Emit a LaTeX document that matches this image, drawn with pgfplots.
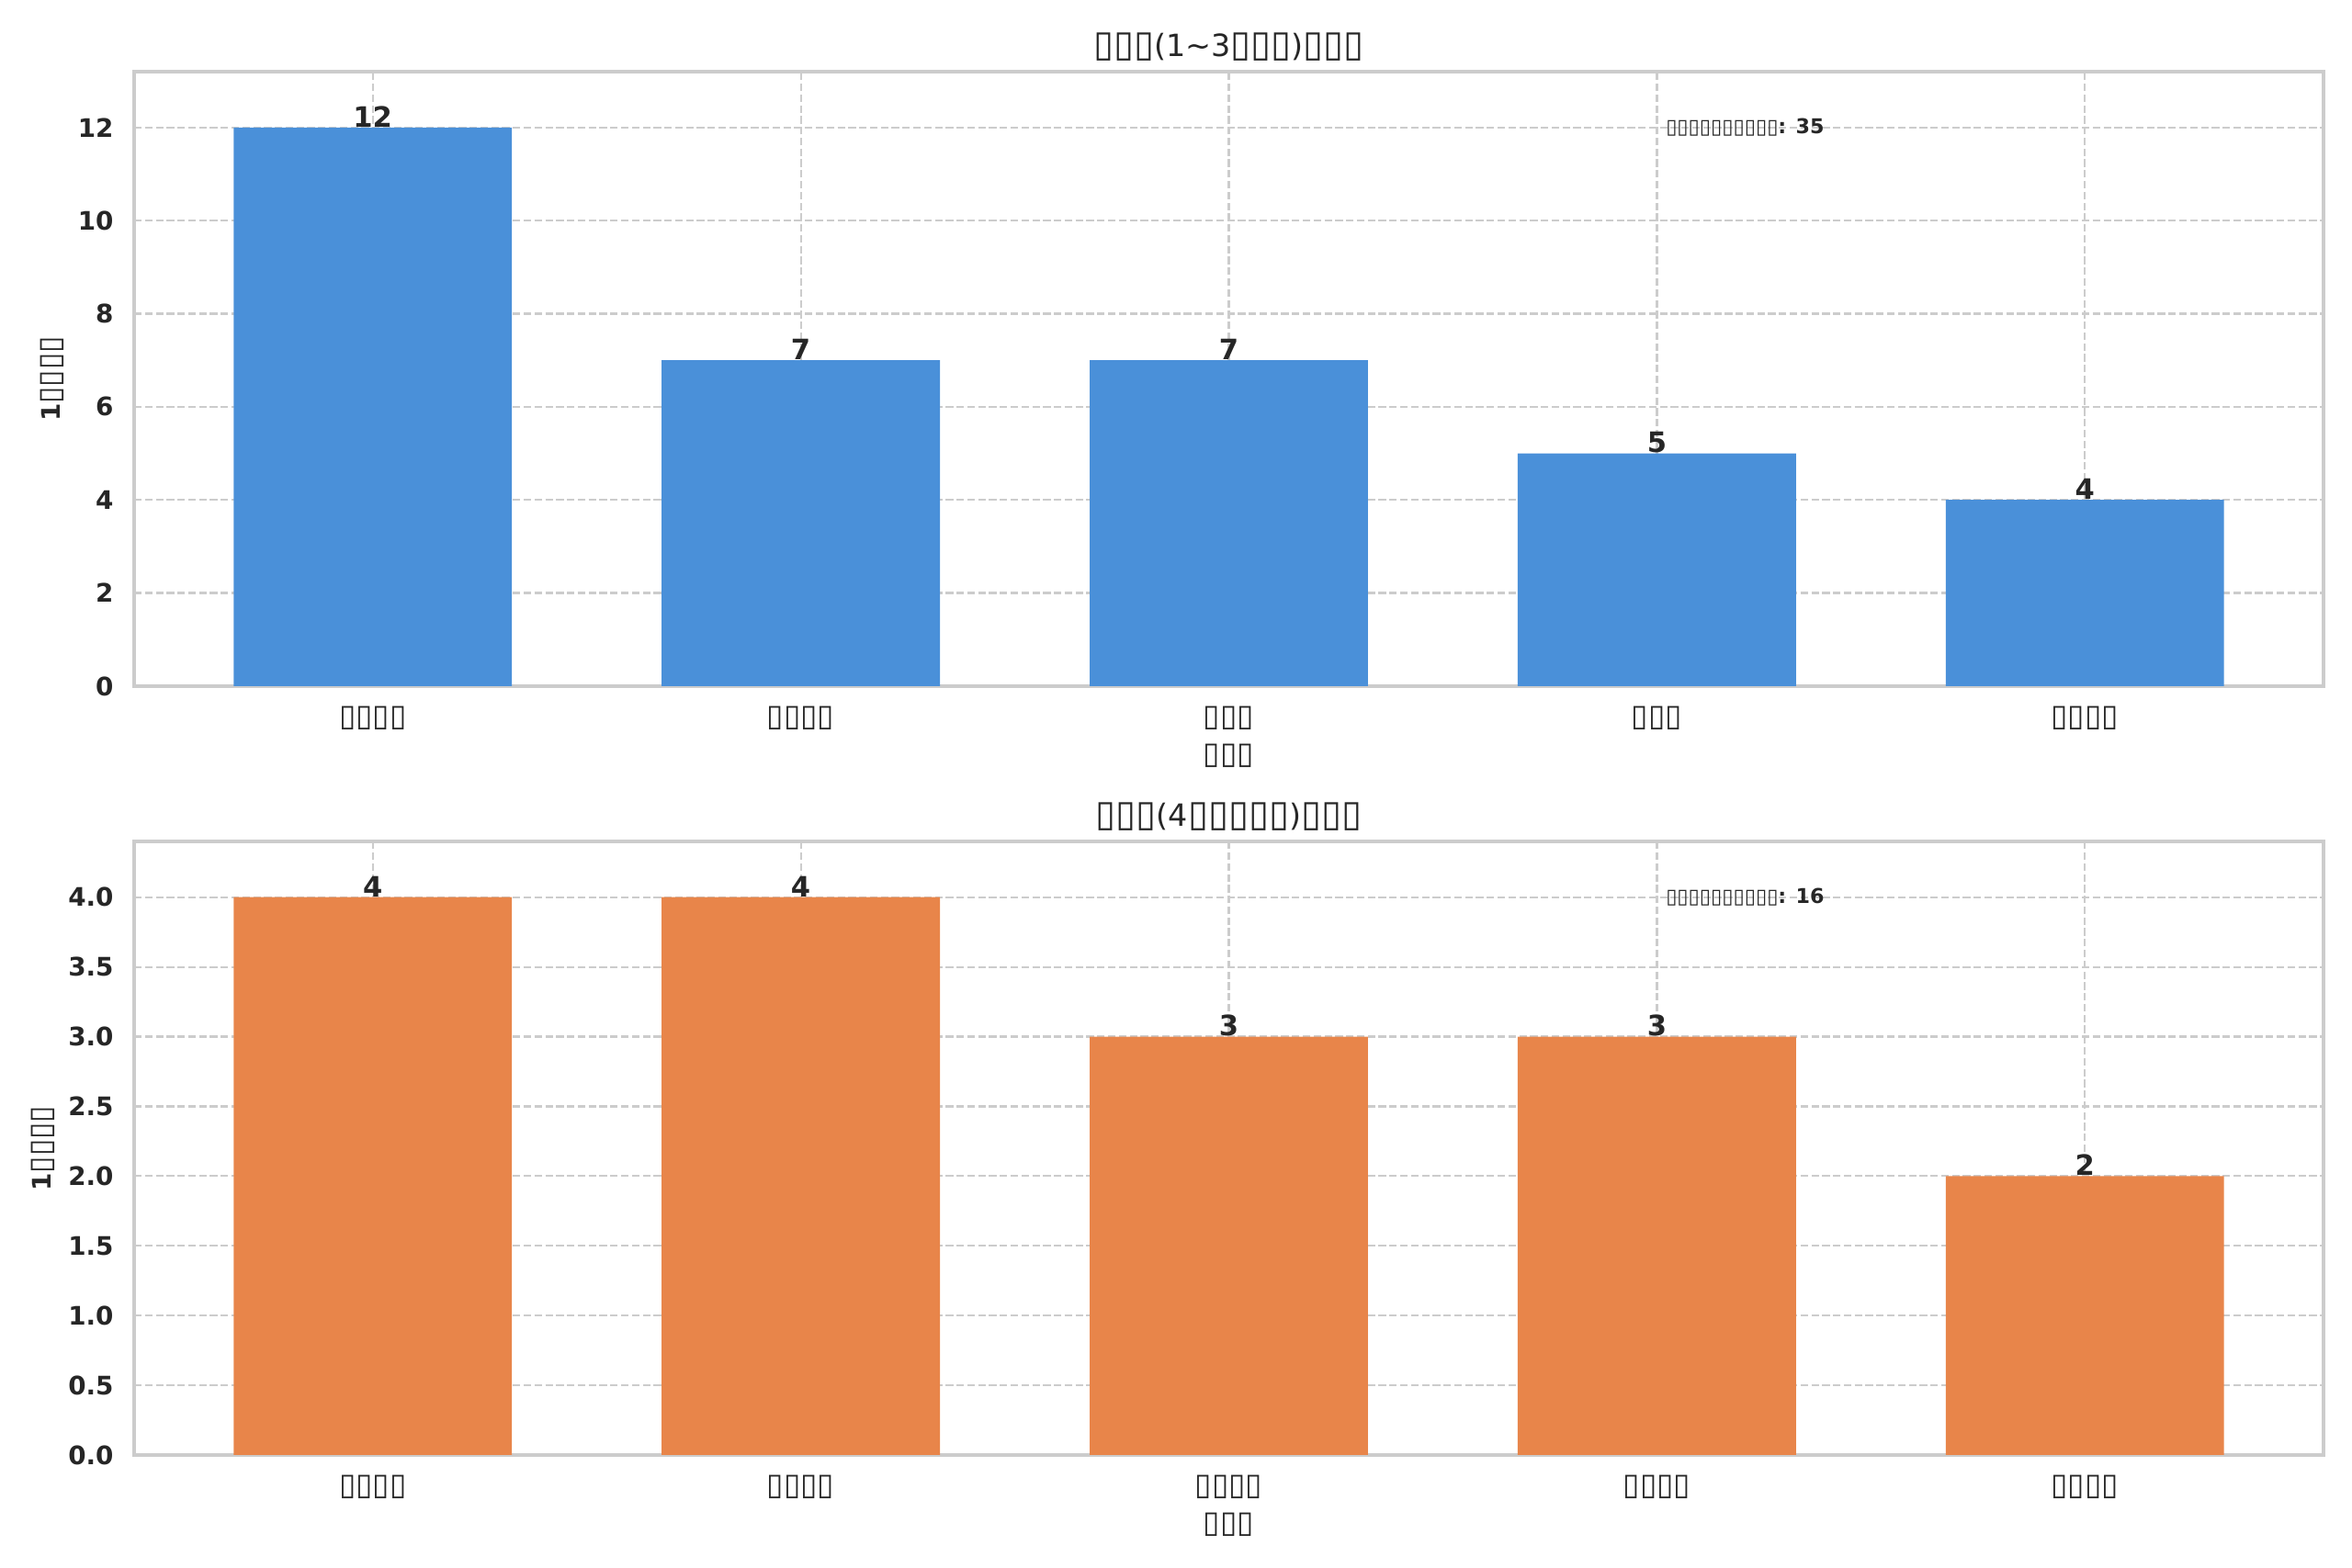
\documentclass[border=0pt]{standalone}
\usepackage{pgfplots}
\pgfplotsset{compat=1.18}
\usepackage{fontspec}
\setmainfont{DejaVu Sans}
\newfontfamily\tf{DejaVu Sans}[Scale=1.2]
\definecolor{barblue}{HTML}{4A90D9}
\definecolor{barorange}{HTML}{E8854A}
\definecolor{gridgray}{HTML}{CCCCCC}
\definecolor{txt}{HTML}{262626}
\pgfplotsset{
  mystyle/.style={
    scale only axis, width=857.88pt,
    xmin=-0.5575, xmax=4.5575, ymin=0,
    axis line style={gridgray, line width=1.25pt},
    grid=major,
    major grid style={gridgray, line width=0.8pt, dash pattern=on 2.96pt off 1.28pt},
    xtick={0,1,2,3,4},
    major tick length=0pt, tick style={draw=none},
    /pgf/number format/assume math mode=true,
    yticklabel style={font=\bfseries\fontsize{10}{12}\selectfont, text=txt, inner sep=0pt, xshift=-7.9pt},
    xticklabel style={font=\fontsize{10}{12}\selectfont, text=txt, anchor=base, inner sep=0pt, yshift=-15.6pt},
    xlabel style={at={([yshift=-30.6pt]axis description cs:0.5,0)}, anchor=base, inner sep=0pt, font=\fontsize{10}{12}\selectfont, text=txt},
    ylabel style={at={([xshift=-32pt]axis description cs:0,0.5)}, anchor=center, font=\bfseries\fontsize{10}{12}\selectfont, text=txt},
    title style={at={(axis description cs:0.5,1)}, anchor=base, inner sep=0pt, yshift=0pt, font=\fontsize{12}{14}\selectfont, text=txt},
    ybar, bar width=0.65,
    nodes near coords,
    every node near coord/.append style={font=\bfseries\fontsize{11}{13}\selectfont, text=txt, anchor=south, inner sep=0pt},
  }
}
\begin{document}
\begin{tikzpicture}
\path[use as bounding box] (0,0) rectangle (921.6pt,614.52pt);
\begin{axis}[mystyle, at={(52.56pt,345.6pt)}, height=240.84pt,
  ymax=13.2, ytick={0,2,4,6,8,10,12},
  xticklabels={{\tf ▯▯▯▯},{\tf ▯▯▯▯},{\tf ▯▯▯},{\tf ▯▯▯},{\tf ▯▯▯▯}},
  xlabel={{\tf ▯▯▯}}, ylabel={1{\tf ▯▯▯▯}},
  title={{\tf ▯▯▯}(1\textasciitilde3{\tf ▯▯▯})\tf ▯▯▯}]
\addplot[fill=barblue, draw=none] coordinates {(0,12) (1,7) (2,7) (3,5) (4,4)};
\node[anchor=west, inner sep=0pt, font=\bfseries\fontsize{8}{10}\selectfont, text=txt] at (axis cs:3.02,12) {▯▯▯▯▯▯▯▯▯▯: 35};
\end{axis}
\begin{axis}[mystyle, at={(52.56pt,44.28pt)}, height=240.48pt,
  ymax=4.4, ytick={0,0.5,1,1.5,2,2.5,3,3.5,4},
  yticklabel style={/pgf/number format/.cd, fixed, fixed zerofill, precision=1},
  xticklabels={{\tf ▯▯▯▯},{\tf ▯▯▯▯},{\tf ▯▯▯▯},{\tf ▯▯▯▯},{\tf ▯▯▯▯}},
  xlabel={{\tf ▯▯▯}}, ylabel={1{\tf ▯▯▯▯}},
  ylabel style={at={([xshift=-35.6pt]axis description cs:0,0.5)}},
  title={{\tf ▯▯▯}(4{\tf ▯▯▯▯▯})\tf ▯▯▯}]
\addplot[fill=barorange, draw=none] coordinates {(0,4) (1,4) (2,3) (3,3) (4,2)};
\node[anchor=west, inner sep=0pt, font=\bfseries\fontsize{8}{10}\selectfont, text=txt] at (axis cs:3.02,4) {▯▯▯▯▯▯▯▯▯▯: 16};
\end{axis}
\end{tikzpicture}
\end{document}
